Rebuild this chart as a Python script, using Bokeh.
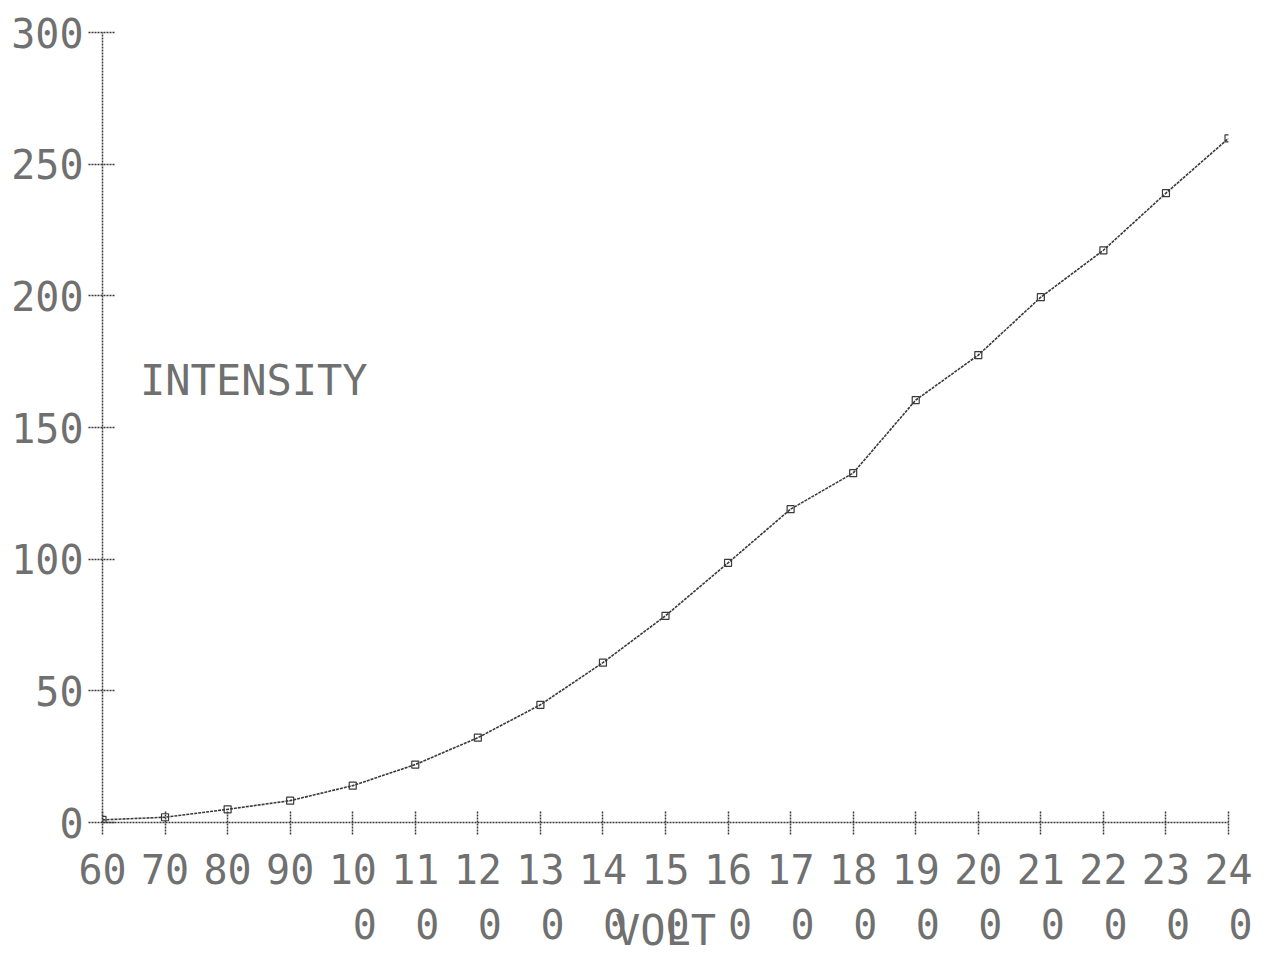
from bokeh.plotting import figure
from bokeh.models import FixedTicker, Label, Range1d
from bokeh.embed import file_html
from bokeh.resources import INLINE

# ---- data ----
volts = [60, 70, 80, 90, 100, 110, 120, 130, 140, 150,
         160, 170, 180, 190, 200, 210, 220, 230, 240]
intensity = [1.0, 2.0, 5.0, 8.3, 14.0, 22.0, 32.2, 44.7, 60.7, 78.5,
             98.6, 119.0, 132.7, 160.4, 177.5, 199.5, 217.3, 239.0, 259.8]

x_ticks = [60, 70, 80, 90, 100, 110, 120, 130, 140, 150,
           160, 170, 180, 190, 200, 210, 220, 230, 240]
x_tick_labels = ["60", "70", "80", "90", "100", "110", "120", "130", "140", "150",
                 "160", "170", "180", "190", "200", "210", "220", "230", "240"]
y_ticks = [0, 50, 100, 150, 200, 250, 300]
y_tick_labels = ["0", "50", "100", "150", "200", "250", "300"]

x_title = "VOLT"
y_title = "INTENSITY"

FONT = "DejaVu Sans Mono"
TXT = "#707070"
INK = "#3a3a3a"


def wrap(s):
    # the printer wraps labels after two characters, right aligned
    if len(s) <= 2:
        return s
    rest = s[2:]
    return s[:2] + "\n" + "\u00a0" * (2 - len(rest)) + rest


p = figure(width=1254, height=958,
           x_range=Range1d(60, 240), y_range=Range1d(0, 300),
           output_backend="svg", toolbar_location=None,
           min_border_left=102, min_border_right=26,
           min_border_top=32, min_border_bottom=136)
p.outline_line_color = None
p.xgrid.visible = False
p.ygrid.visible = False
p.background_fill_color = "white"
p.border_fill_color = "white"

# axes
p.xaxis.ticker = FixedTicker(ticks=x_ticks)
p.xaxis.major_label_overrides = {t: wrap(l) for t, l in zip(x_ticks, x_tick_labels)}
p.yaxis.ticker = FixedTicker(ticks=y_ticks)
p.yaxis.major_label_overrides = {t: l for t, l in zip(y_ticks, y_tick_labels)}

for ax in (p.xaxis, p.yaxis):
    ax.axis_line_color = INK
    ax.axis_line_width = 1.5
    ax.axis_line_dash = "2 1"
    ax.major_tick_line_color = INK
    ax.major_tick_line_width = 1.5
    ax.major_tick_line_dash = "2 1"
    ax.minor_tick_line_color = None
    ax.major_label_text_font = FONT
    ax.major_label_text_font_size = "40px"
    ax.major_label_text_color = TXT

p.xaxis.major_tick_out = 12
p.xaxis.major_tick_in = 12
p.xaxis.major_label_standoff = 12
p.yaxis.major_tick_out = 14
p.yaxis.major_tick_in = 13
p.yaxis.major_label_standoff = 5

# x title sits over the wrapped second line of the tick labels
p.xaxis.axis_label = x_title
p.xaxis.axis_label_text_font = FONT
p.xaxis.axis_label_text_font_size = "42px"
p.xaxis.axis_label_text_font_style = "normal"
p.xaxis.axis_label_text_color = TXT
p.xaxis.axis_label_standoff = -45

# data
p.line(volts, intensity, line_color=INK, line_width=1.6, line_dash="3 1")
p.scatter(volts, intensity, marker="square", size=7, fill_color=None,
          line_color=INK, line_width=1.2)

# y title inside the plot area
p.add_layout(Label(x=66.0, y=168.0, text=y_title, text_font=FONT,
                   text_font_size="42px", text_color=TXT,
                   text_baseline="alphabetic", text_align="left"))

open("out.html", "w").write(file_html(p, INLINE))
